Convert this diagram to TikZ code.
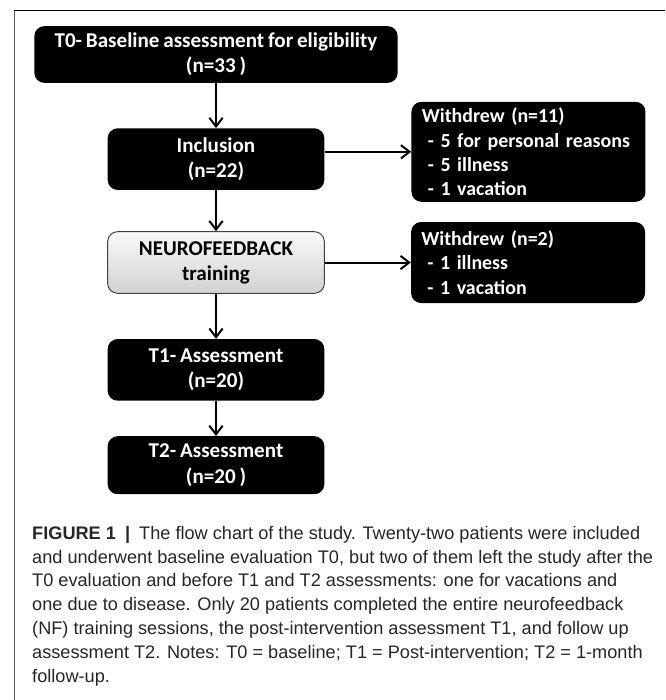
\documentclass[tikz,border=0pt]{standalone}
\usepackage{fontspec}
\newfontfamily\boxfont[WordSpace=0.8]{Carlito}
\newfontfamily\capfont{Liberation Sans}
\usetikzlibrary{arrows.meta, positioning}

\begin{document}
\begin{tikzpicture}[x=0.03cm, y=-0.03cm]
    \tikzset{
        block/.style = {rectangle, fill=black, text=white, rounded corners=0.3cm, minimum width=6.5cm, minimum height=1.85cm, align=center, inner sep=2pt, font=\boxfont\bfseries\fontsize{18}{21.5}\selectfont},
        train/.style = {block, draw=black!75, thick, top color=gray!5, bottom color=gray!35, text=black},
        side/.style = {block, align=left, text width=6.4cm, inner xsep=0.31cm, font=\boxfont\bfseries\fontsize{17}{20.7}\selectfont},
        line/.style = {draw=black, line width=1.7pt, -{Straight Barb[length=2.6mm, width=4mm, line width=1.7pt]}},
        caption/.style = {align=left, inner sep=0pt, text=black!85, font=\capfont\fontsize{15.5}{20.3}\selectfont},
        frame/.style = {line width=0.8pt},
    }
    \useasboundingbox (0,0) rectangle (665,700);
    
    \draw[frame, black!65] (14,700) -- (14,10);
    \draw[frame] (14,10) -- (665,10);
    
    \node[block, minimum width=10.9cm, minimum height=1.7cm](t0) at (216,54.5){T0- Baseline assessment for eligibility\\(n=33 )};
    
    \node[block](incl)[below = 1.35cm of t0]{Inclusion\\(n=22)};
    
    \node[train](nf)[below = 1.23cm of incl]{NEUROFEEDBACK\\training};
    
    \node[block](t1)[below = 1.35cm of nf]{T1- Assessment\\(n=20)};
    
    \node[block, minimum height=1.74cm](t2)[below = 1.05cm of t1]{T2- Assessment\\(n=20 )};
    
    \node[side, minimum height=3cm](w11)[right = 2.6cm of incl, yshift=0.22cm]{Withdrew (n=11)\\\hspace*{0.3em}\mbox{- 5 for personal reasons}\\\hspace*{0.3em}- 5 illness\\\hspace*{0.3em}- 1 vacation};
    
    \node[side, minimum height=2.43cm](w2)[right = 2.58cm of nf]{Withdrew (n=2)\\\hspace*{0.3em}- 1 illness\\\hspace*{0.3em}- 1 vacation};
    
    \node[caption, anchor=north west](cap) at (32,526){\textbf{FIGURE 1}\enspace\textbf{|}\enspace The flow chart of the study. Twenty-two patients were included\\and underwent baseline evaluation T0, but two of them left the study after the\\T0 evaluation and before T1 and T2 assessments: one for vacations and\\one due to disease. Only 20 patients completed the entire neurofeedback\\(NF) training sessions, the post-intervention assessment T1, and follow up\\assessment T2. Notes: T0 = baseline; T1 = Post-intervention; T2 = 1-month\\follow-up.};
    
    \path [line] (t0) -- (incl);
    \path [line] (incl) -- (nf);
    \path [line] (nf) -- (t1);
    \path [line] (t1) -- (t2);
    \path [line] (incl.east |- w11.west) -- (w11.west);
    \path [line] (nf) -- (w2);

\end{tikzpicture}
\end{document}
